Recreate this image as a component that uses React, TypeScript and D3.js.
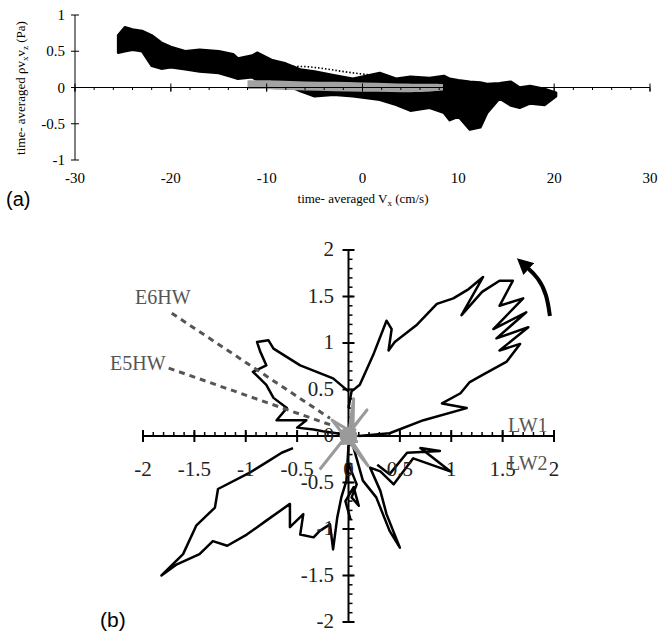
import React from 'react';
import * as d3 from 'd3';

// ---- panel (a) data: time-averaged stress vs time-averaged Vx ----
const aTicksX = [-30, -20, -10, 0, 10, 20, 30];
const aTicksY = [1, 0.5, 0, -0.5, -1];

// black scatter cloud, read as upper / lower envelope
const aBandV = [-25.5, -24.8, -24, -23, -22, -21, -20, -18.5, -17, -15, -13.5, -13, -11.5, -11, -9.5, -8, -6.5, -5, -3, -1, 1.8, 3.5, 5, 7, 8.5, 9.1, 10, 11.2, 12.3, 13, 14.3, 15.5, 16.4, 17.5, 19, 20.2];
const aBandUp = [0.72, 0.83, 0.8, 0.78, 0.72, 0.62, 0.56, 0.5, 0.52, 0.5, 0.46, 0.4, 0.44, 0.48, 0.38, 0.33, 0.25, 0.22, 0.17, 0.12, 0.2, 0.12, 0.15, 0.13, 0.16, 0.12, 0.1, 0.08, 0.07, 0.05, 0.06, 0.08, 0.0, 0.02, -0.02, -0.07];
const aBandLo = [0.48, 0.5, 0.52, 0.5, 0.3, 0.26, 0.28, 0.25, 0.22, 0.2, 0.14, 0.12, 0.14, 0.1, 0.08, 0.04, -0.05, -0.12, -0.1, -0.12, -0.17, -0.24, -0.32, -0.28, -0.35, -0.45, -0.4, -0.58, -0.55, -0.35, -0.15, -0.25, -0.28, -0.22, -0.24, -0.12];

// grey cloud
const aGreyV = [-12, -9, -6, -3, 0, 3, 6, 8.4];
const aGreyUp = [0.1, 0.1, 0.08, 0.08, 0.07, 0.06, 0.05, 0.05];
const aGreyLo = [-0.02, -0.03, -0.04, -0.05, -0.06, -0.06, -0.07, -0.04];

// dotted trace
const aDotV = [-9, -7, -5, -3, -1, 1, 3];
const aDotY = [0.26, 0.3, 0.28, 0.24, 0.2, 0.17, 0.14];

// ---- panel (b) data: traces in the LW1/LW2 plane ----
const bTicks = [-2, -1.5, -1, -0.5, 0, 0.5, 1, 1.5, 2];

const lobeUpperRight: [number, number][] = [
  [0.0, 0.3], [0.03, 0.48], [0.11, 0.55], [0.24, 0.87], [0.37, 1.24], [0.42, 1.15], [0.39, 0.92],
  [0.45, 1.01], [0.66, 1.19], [0.86, 1.42], [1.02, 1.48], [1.17, 1.58], [1.31, 1.71], [1.1, 1.3],
  [1.3, 1.55], [1.47, 1.67], [1.6, 1.67], [1.47, 1.4], [1.7, 1.48], [1.41, 1.15], [1.73, 1.33],
  [1.44, 1.05], [1.75, 1.17], [1.47, 0.92], [1.67, 0.99], [1.54, 0.8], [1.31, 0.66], [1.18, 0.58],
  [1.09, 0.46], [0.91, 0.35], [1.15, 0.3], [0.73, 0.17], [0.4, 0.03], [0.1, 0.0],
];

const lobeUpperLeft: [number, number][] = [
  [0.0, 0.48], [-0.15, 0.62], [-0.31, 0.69], [-0.47, 0.76], [-0.73, 0.94], [-0.78, 1.03],
  [-0.89, 1.01], [-0.86, 0.91], [-0.8, 0.76], [-0.93, 0.69], [-0.8, 0.55], [-0.73, 0.41],
  [-0.6, 0.3], [-0.7, 0.17], [-0.41, 0.17], [-0.5, 0.09], [-0.34, 0.07], [-0.25, 0.05], [-0.05, 0.02],
];

const lobeLowerLeft: [number, number][] = [
  [0.0, -0.1], [-0.02, -0.48], [-0.07, -0.66], [-0.11, -0.88], [-0.15, -1.22], [-0.18, -0.95],
  [-0.28, -1.02], [-0.34, -1.09], [-0.47, -1.06], [-0.44, -0.84], [-0.57, -0.98], [-0.57, -0.73],
  [-0.8, -0.91], [-0.99, -1.06], [-1.18, -1.18], [-1.32, -1.13], [-1.45, -1.27], [-1.67, -1.38],
  [-1.82, -1.5], [-1.61, -1.27], [-1.48, -0.96], [-1.3, -0.77], [-1.27, -0.57], [-0.97, -0.4],
  [-0.78, -0.27], [-0.65, -0.18], [-0.54, -0.13],
];

const lobeLowerRight: [number, number][] = [
  [0.03, -0.05], [0.14, -0.48], [0.27, -0.66], [0.4, -1.02], [0.5, -1.2], [0.37, -0.84],
  [0.31, -0.59], [0.21, -0.34], [0.31, -0.38], [0.44, -0.52], [0.63, -0.24], [0.99, -0.38],
  [0.7, -0.13], [0.89, -0.16], [0.57, -0.18], [0.4, -0.41], [0.28, -0.31],
];

const lobeAxisLow: [number, number][] = [
  [0.0, -0.3], [0.08, -0.52], [0.03, -0.66], [0.1, -0.75], [0.05, -0.55], [-0.03, -0.7], [0.02, -0.9],
];

const greyStar: [number, number][] = [
  [-0.28, -0.36], [0.18, 0.28], [0.02, 0.05], [-0.16, 0.17], [0.19, -0.32], [0.0, 0.0],
  [0.05, 0.4], [0.04, -0.05], [-0.08, 0.06], [0.08, -0.06], [-0.06, -0.08], [0.07, 0.08],
];

const dashE6: [number, number][] = [[-1.72, 1.32], [-0.18, 0.19]];
const dashE5: [number, number][] = [[-1.75, 0.73], [-0.15, 0.11]];
const arrowPath: [number, number][] = [[1.96, 1.29], [1.93, 1.52], [1.85, 1.7], [1.72, 1.83]];

const serif = '"Liberation Serif", "Times New Roman", serif';
const sans = '"Liberation Sans", Arial, sans-serif';

function PanelA() {
  const x = d3.scaleLinear().domain([-30, 30]).range([75, 650]);
  const y = d3.scaleLinear().domain([-1, 1]).range([160, 15]);
  const band = d3.area<number>()
    .x((_, i) => x(aBandV[i]))
    .y0((_, i) => y(aBandLo[i]))
    .y1((_, i) => y(aBandUp[i]));
  const grey = d3.area<number>()
    .x((_, i) => x(aGreyV[i]))
    .y0((_, i) => y(aGreyLo[i]))
    .y1((_, i) => y(aGreyUp[i]))
    .curve(d3.curveBasis);
  const dot = d3.line<number>().x((_, i) => x(aDotV[i])).y((_, i) => y(aDotY[i])).curve(d3.curveBasis);
  const minor = d3.range(-30, 31, 2);

  return (
    <g>
      <path d={band(aBandV) ?? ''} fill="#000" stroke="#000" strokeWidth={2.5} strokeLinejoin="round" />
      <path d={dot(aDotV) ?? ''} fill="none" stroke="#000" strokeWidth={1.6} strokeDasharray="1.5 2" />
      <path d={grey(aGreyV) ?? ''} fill="#a2a2a2" />
      <line x1={x(-30)} x2={x(30)} y1={y(0)} y2={y(0)} stroke="#000" strokeWidth={1} />
      <line x1={x(-30)} x2={x(-30)} y1={y(1)} y2={y(-1)} stroke="#000" strokeWidth={1} />
      {minor.map(t => (
        <line key={t} x1={x(t)} x2={x(t)} y1={y(0)} y2={y(0) + (t % 10 === 0 ? 4 : 2.5)}
          stroke="#000" strokeWidth={1} />
      ))}
      {aTicksX.map(t => (
        <line key={'mx' + t} x1={x(t)} x2={x(t)} y1={y(0) - 4} y2={y(0) + 4} stroke="#000" strokeWidth={1} />
      ))}
      {aTicksY.map(t => (
        <g key={t}>
          <line x1={x(-30) - 4} x2={x(-30) + 4} y1={y(t)} y2={y(t)} stroke="#000" strokeWidth={1} />
          <text x={x(-30) - 10} y={y(t) + 5} textAnchor="end" fontFamily={serif} fontSize={15}>{t}</text>
        </g>
      ))}
      {aTicksX.map(t => (
        <text key={'lx' + t} x={x(t)} y={183} textAnchor="middle" fontFamily={serif} fontSize={15}>{t}</text>
      ))}
      <text x={363} y={203} textAnchor="middle" fontFamily={serif} fontSize={13}>
        time- averaged V<tspan fontSize={9} dy={3}>x</tspan><tspan dy={-3}> (cm/s)</tspan>
      </text>
      <text transform="translate(25,88) rotate(-90)" textAnchor="middle" fontFamily={serif} fontSize={13}>
        time- averaged ρv<tspan fontSize={9} dy={3}>x</tspan><tspan dy={-3}>v</tspan>
        <tspan fontSize={9} dy={3}>z</tspan><tspan dy={-3}>  (Pa)</tspan>
      </text>
      <text x={6} y={206} fontFamily={sans} fontSize={20}>(a)</text>
    </g>
  );
}

function PanelB() {
  const x = d3.scaleLinear().domain([-2, 2]).range([143, 554]);
  const y = d3.scaleLinear().domain([-2, 2]).range([622, 250]);
  const line = d3.line<[number, number]>().x(d => x(d[0])).y(d => y(d[1]));
  const curve = d3.line<[number, number]>().x(d => x(d[0])).y(d => y(d[1])).curve(d3.curveBasis);
  const minor = d3.range(-20, 21).map(v => v / 10);
  const lobes = [lobeUpperRight, lobeUpperLeft, lobeLowerLeft, lobeLowerRight, lobeAxisLow];
  const x0 = x(0);
  const y0 = y(0);

  return (
    <g>
      <defs>
        <marker id="head" viewBox="0 0 10 10" refX="3" refY="5" markerWidth="4" markerHeight="4" orient="auto">
          <path d="M0,0 L10,5 L0,10 Z" fill="#000" />
        </marker>
      </defs>
      {/* axes */}
      <line x1={x(-2)} x2={x(2)} y1={y0} y2={y0} stroke="#000" strokeWidth={2} />
      <line x1={x0} x2={x0} y1={y(2)} y2={y(-2)} stroke="#000" strokeWidth={2} />
      {minor.map(t => (
        <g key={t}>
          <line x1={x(t)} x2={x(t)} y1={y0} y2={y0 - 4} stroke="#000" strokeWidth={1.5} />
          <line x1={x0} x2={x0 + 4} y1={y(t)} y2={y(t)} stroke="#000" strokeWidth={1.5} />
        </g>
      ))}
      {bTicks.map(t => (
        <g key={'m' + t}>
          <line x1={x(t)} x2={x(t)} y1={y0 - 6} y2={y0 + 6} stroke="#000" strokeWidth={2} />
          <line x1={x0 - 6} x2={x0 + 6} y1={y(t)} y2={y(t)} stroke="#000" strokeWidth={2} />
        </g>
      ))}
      {/* traces */}
      {lobes.map((l, i) => (
        <path key={i} d={line(l) ?? ''} fill="none" stroke="#000" strokeWidth={2.5} strokeLinejoin="round" />
      ))}
      <path d={line(greyStar) ?? ''} fill="none" stroke="#9a9a9a" strokeWidth={3} strokeLinejoin="round" />
      <circle cx={x0} cy={y0} r={9} fill="#9a9a9a" />
      <path d={line(dashE6) ?? ''} stroke="#555" strokeWidth={3} strokeDasharray="6 5" />
      <path d={line(dashE5) ?? ''} stroke="#555" strokeWidth={3} strokeDasharray="6 5" />
      <path d={curve(arrowPath) ?? ''} fill="none" stroke="#000" strokeWidth={4} markerEnd="url(#head)" />
      {/* tick labels */}
      {bTicks.map(t => (
        <text key={'lx' + t} x={x(t)} y={476} textAnchor="middle" fontFamily={serif} fontSize={21} fill="#222">{t}</text>
      ))}
      {bTicks.filter(t => t !== 0).map(t => (
        <text key={'ly' + t} x={334} y={y(t) + 6} textAnchor="end" fontFamily={serif} fontSize={21} fill="#222">{t}</text>
      ))}
      <text x={334} y={y0 + 6} textAnchor="end" fontFamily={serif} fontSize={21} fill="#222">0</text>
      <text x={508} y={432} fontFamily={serif} fontSize={20} fill="#555">LW1</text>
      <text x={508} y={470} fontFamily={serif} fontSize={20} fill="#555">LW2</text>
      <text x={135} y={304} fontFamily={serif} fontSize={20} fill="#555">E6HW</text>
      <text x={110} y={370} fontFamily={serif} fontSize={20} fill="#555">E5HW</text>
      <text x={100} y={627} fontFamily={sans} fontSize={21}>(b)</text>
    </g>
  );
}

export default function App() {
  return (
    <svg width={667} height={633} style={{ position: 'absolute', left: 0, top: 0, background: '#fff' }}>
      <PanelA />
      <PanelB />
    </svg>
  );
}
